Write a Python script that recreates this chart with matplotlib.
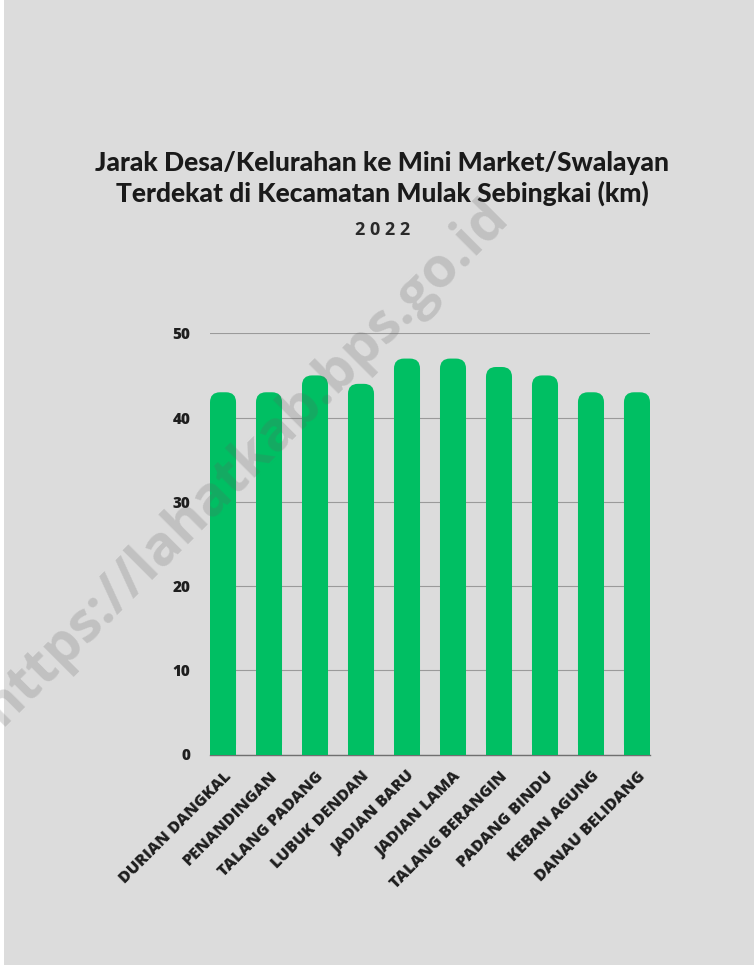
import matplotlib
matplotlib.use("Agg")
import matplotlib.pyplot as plt
from matplotlib.patches import FancyBboxPatch, Rectangle

categories = ["DURIAN DANGKAL", "PENANDINGAN", "TALANG PADANG", "LUBUK DENDAN",
              "JADIAN BARU", "JADIAN LAMA", "TALANG BERANGIN", "PADANG BINDU",
              "KEBAN AGUNG", "DANAU BELIDANG"]
values = [43, 43, 45, 44, 47, 47, 46, 45, 43, 43]
yticks = [0, 10, 20, 30, 40, 50]

W, H = 754, 965
fig = plt.figure(figsize=(W / 100, H / 100), dpi=100)
fig.patch.set_facecolor("#dcdcdc")
# white strip at the left edge of the paper image
fig.add_artist(Rectangle((0, 0), 4 / W, 1, transform=fig.transFigure,
                         fc="white", ec="none", zorder=0))

ax = fig.add_axes([210 / W, 1 - 754.5 / H, 440 / W, (754.5 - 333.3) / H])
ax.set_facecolor("none")

bw = 0.566
x = list(range(len(categories)))
bars = ax.bar(x, values, width=bw, color="#00BF63", zorder=3)
ax.set_xlim(-bw / 2, len(categories) - 1 + bw / 2)
ax.set_ylim(0, 50)

# rounded tops
fig.canvas.draw()
bbox = ax.get_window_extent()
xpp = (ax.get_xlim()[1] - ax.get_xlim()[0]) / bbox.width
ypp = (ax.get_ylim()[1] - ax.get_ylim()[0]) / bbox.height
aspect = ypp / xpp
r = 10 * xpp
for b in bars:
    bx, by, bwid, bh = b.get_x(), b.get_y(), b.get_width(), b.get_height()
    b.set_visible(False)
    ax.add_patch(FancyBboxPatch((bx, by), bwid, bh,
                                boxstyle=f"round,pad=0,rounding_size={r}",
                                mutation_aspect=aspect, fc="#00BF63", ec="none", zorder=3))
    ax.add_patch(Rectangle((bx, by), bwid, bh - r * aspect * 1.2, fc="#00BF63", ec="none", zorder=3))

ax.set_yticks(yticks)
ax.set_yticklabels([str(v) for v in yticks], fontfamily="Open Sans", fontweight="heavy",
                   fontsize=11, color="#1e1e1e")
ax.set_xticks(x)
ax.set_xticklabels(categories, rotation=45, ha="right", rotation_mode="anchor",
                   fontfamily="Open Sans", fontweight="heavy", fontsize=11.6, color="#1e1e1e")
ax.tick_params(axis="both", length=0)
ax.tick_params(axis="y", pad=14)
ax.tick_params(axis="x", pad=10)
ax.grid(axis="y", color="#9a9a9a", linewidth=0.8, zorder=1)
for s in ["top", "right", "left"]:
    ax.spines[s].set_visible(False)
ax.spines["bottom"].set_color("#707070")
ax.spines["bottom"].set_linewidth(1.0)

fig.text(382 / W, 1 - 163 / H, "Jarak Desa/Kelurahan ke Mini Market/Swalayan",
         ha="center", va="center", fontfamily="Lato", fontweight="black",
         fontsize=19, color="#1a1a1a")
fig.text(382 / W, 1 - 193 / H, "Terdekat di Kecamatan Mulak Sebingkai (km)",
         ha="center", va="center", fontfamily="Lato", fontweight="black",
         fontsize=19, color="#1a1a1a")
fig.text(383 / W, 1 - 230 / H, "2 0 2 2", ha="center", va="center",
         fontfamily="Open Sans", fontweight="bold", fontsize=13, color="#2a2a2a")

fig.text(245 / W, 1 - 462 / H, "https://lahatkab.bps.go.id", ha="center", va="center",
         rotation=45, fontfamily="Open Sans", fontweight="bold", fontsize=40,
         color="#606060", alpha=0.22, zorder=10)

fig.savefig("out.png", dpi=100, facecolor=fig.get_facecolor())
